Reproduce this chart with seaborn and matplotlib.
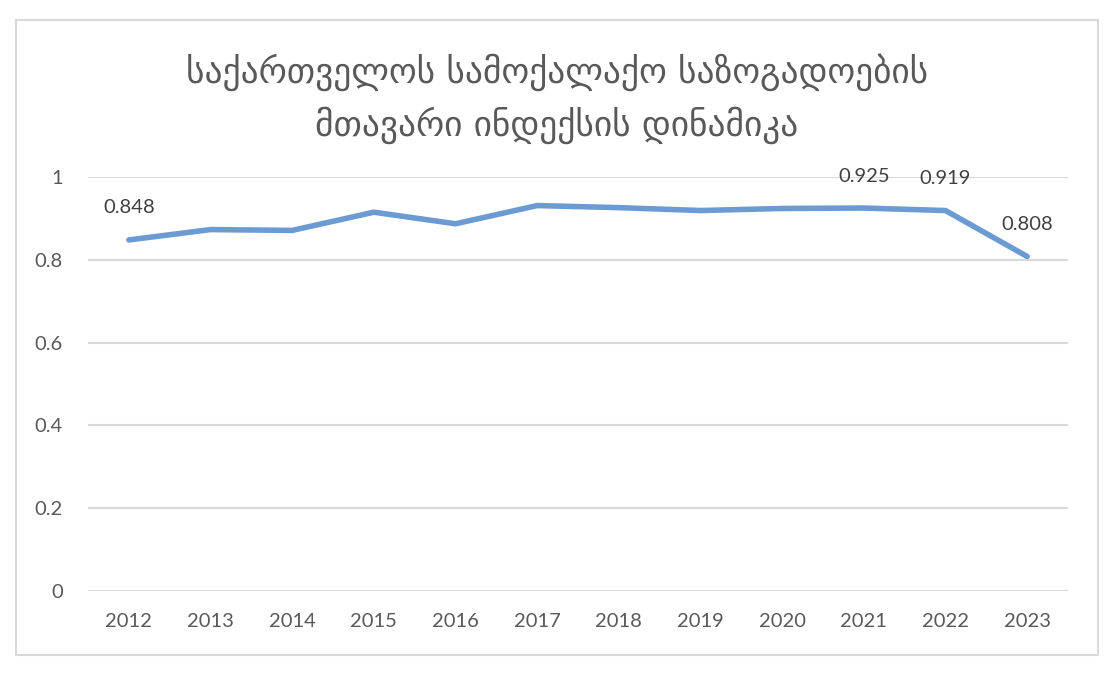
import matplotlib
matplotlib.use("Agg")
import matplotlib.pyplot as plt
import seaborn as sns
import pandas as pd
from matplotlib.patches import Rectangle

years = ["2012", "2013", "2014", "2015", "2016", "2017", "2018", "2019", "2020", "2021", "2022", "2023"]
index_values = [0.848, 0.873, 0.871, 0.915, 0.887, 0.931, 0.926, 0.919, 0.924, 0.925, 0.919, 0.808]
labelled_years = ["2012", "2021", "2022", "2023"]
y_ticks = [0, 0.2, 0.4, 0.6, 0.8, 1.0]
y_tick_labels = ["0", "0.2", "0.4", "0.6", "0.8", "1"]
title_lines = ["საქართველოს სამოქალაქო საზოგადოების", "მთავარი ინდექსის დინამიკა"]

sns.set_theme(style="white")
plt.rcParams["font.family"] = ["Lato", "DejaVu Sans"]

df = pd.DataFrame({"year": years, "value": index_values})

fig = plt.figure(figsize=(11.18, 6.76), dpi=100)
ax = fig.add_axes([88 / 1118, 1 - 591 / 676, (1068 - 88) / 1118, (591 - 177) / 676])

sns.lineplot(data=df, x="year", y="value", ax=ax, color="#6B9BD2", linewidth=4.0,
             solid_capstyle="round", solid_joinstyle="round", zorder=3)

ax.set_xlim(-0.5, len(years) - 0.5)
ax.set_ylim(0, 1)
ax.set_yticks(y_ticks)
ax.set_yticklabels(y_tick_labels)
ax.yaxis.grid(True, color="#D9D9D9", linewidth=1.5)
ax.xaxis.grid(False)
for s in ax.spines.values():
    s.set_visible(False)
ax.set_xlabel("")
ax.set_ylabel("")
ax.tick_params(axis="both", length=0, labelsize=14.5, labelcolor="#595959")
ax.tick_params(axis="x", pad=16)
ax.tick_params(axis="y", pad=18)

for yr, v in zip(years, index_values):
    if yr in labelled_years:
        ax.annotate(f"{v:.3f}", xy=(years.index(yr), v), xytext=(0, 23), textcoords="offset points",
                    ha="center", va="center", fontsize=14.5, color="#404040")

fig.text(0.498, 1 - 72 / 676, title_lines[0], ha="center", va="center", fontsize=25.5,
         color="#595959", family=["DejaVu Sans"])
fig.text(0.498, 1 - 125 / 676, title_lines[1], ha="center", va="center", fontsize=25.5,
         color="#595959", family=["DejaVu Sans"])

fig.patches.append(Rectangle((16 / 1118, 1 - 655 / 676), (1098 - 16) / 1118, (655 - 20) / 676,
                             transform=fig.transFigure, fill=False, edgecolor="#D9D9D9", linewidth=1.5))

fig.savefig("out.png", dpi=100)
